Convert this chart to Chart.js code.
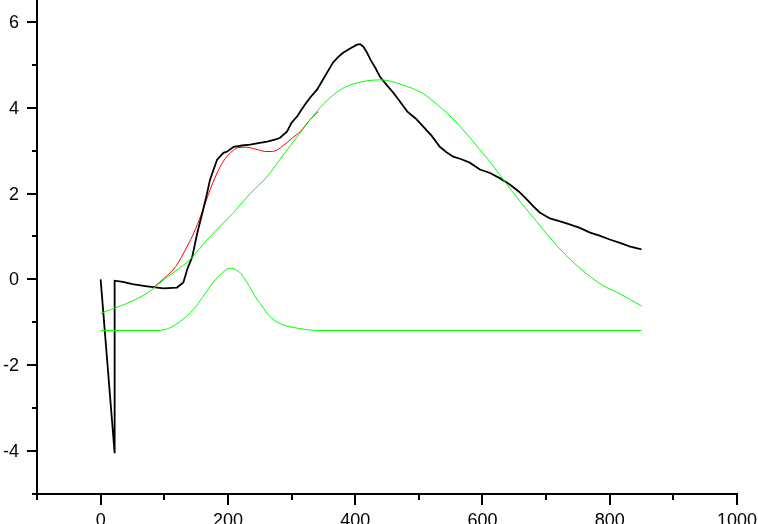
<!DOCTYPE html>
<html>
<head>
<meta charset="utf-8">
<script src="https://cdn.jsdelivr.net/npm/chart.js@4/dist/chart.umd.min.js"></script>
<style>
  body { margin: 0; background: #fff; }
  canvas { display: block; }
</style>
</head>
<body>
<canvas id="chart" width="758" height="524"></canvas>
<script>
// measured curve (black)
const blackX = [0, 22, 22, 35, 50, 73, 99, 120, 130, 136, 144, 152, 160, 165, 172, 183, 193, 199, 209, 222, 235, 250, 262, 275, 282, 293, 300, 309, 320, 330, 340, 352, 365, 373, 381, 392, 403, 408, 413, 418, 424, 432, 439, 450, 460, 470, 482, 495, 507, 520, 533, 543, 554, 567, 580, 596, 612, 627, 643, 657, 670, 680, 690, 706, 722, 737, 753, 769, 784, 800, 816, 831, 845, 850];
const blackY = [0, -4.05, -0.03, -0.06, -0.11, -0.16, -0.21, -0.19, -0.07, 0.23, 0.53, 1.09, 1.56, 1.86, 2.33, 2.79, 2.95, 2.98, 3.09, 3.12, 3.14, 3.18, 3.21, 3.26, 3.30, 3.45, 3.65, 3.80, 4.05, 4.25, 4.42, 4.72, 5.05, 5.18, 5.28, 5.38, 5.47, 5.48, 5.42, 5.30, 5.12, 4.92, 4.72, 4.52, 4.35, 4.15, 3.91, 3.75, 3.56, 3.35, 3.09, 2.97, 2.86, 2.80, 2.72, 2.56, 2.48, 2.36, 2.21, 2.05, 1.86, 1.70, 1.56, 1.42, 1.35, 1.28, 1.20, 1.09, 1.02, 0.93, 0.85, 0.77, 0.72, 0.70];

// fit sum (red)
const fitX = [82, 100, 118, 136, 147, 157, 165, 172, 180, 188, 196, 204, 216, 228, 240, 250, 259, 268, 278, 287, 293, 300, 314, 329, 342];
const fitY = [-0.20, 0.03, 0.30, 0.77, 1.10, 1.47, 1.80, 2.09, 2.38, 2.63, 2.82, 2.95, 3.07, 3.08, 3.05, 3.01, 2.98, 2.98, 3.02, 3.12, 3.19, 3.28, 3.45, 3.72, 3.91];

// wide peak (green)
const peak1X = [0, 31, 50, 74, 100, 120, 141, 160, 180, 209, 235, 262, 282, 314, 340, 361, 380, 403, 420, 439, 455, 475, 490, 507, 525, 544, 570, 596, 615, 635, 660, 685, 706, 730, 758, 789, 811, 830, 850];
const peak1Y = [-0.79, -0.62, -0.50, -0.31, 0.0, 0.22, 0.47, 0.80, 1.12, 1.56, 2.00, 2.40, 2.80, 3.42, 3.92, 4.24, 4.45, 4.58, 4.63, 4.65, 4.62, 4.53, 4.45, 4.33, 4.12, 3.88, 3.48, 3.02, 2.68, 2.28, 1.80, 1.35, 0.97, 0.58, 0.20, -0.14, -0.30, -0.45, -0.62];

// narrow peak (green)
const peak2X = [0, 90, 100, 110, 125, 135, 146, 160, 177, 190, 204, 212, 220, 230, 246, 251, 260, 271, 285, 303, 320, 340, 850];
const peak2Y = [-1.19, -1.19, -1.17, -1.12, -0.98, -0.86, -0.70, -0.42, -0.07, 0.14, 0.26, 0.23, 0.14, -0.07, -0.47, -0.56, -0.76, -0.93, -1.05, -1.12, -1.16, -1.19, -1.19];

const xTicks = [0, 200, 400, 600, 800, 1000];
const xMinor = [-100, 100, 300, 500, 700, 900];
const yTicks = [-4, -2, 0, 2, 4, 6];
const yMinor = [-3, -1, 1, 3, 5];

function pts(xs, ys) {
  return xs.map((x, i) => ({ x: x, y: ys[i] }));
}

const axesPlugin = {
  id: 'originAxes',
  afterDraw(chart) {
    const ctx = chart.ctx;
    const xs = chart.scales.x;
    const ys = chart.scales.y;
    const x0 = xs.getPixelForValue(-100);
    const x1 = xs.getPixelForValue(1000);
    const yb = ys.getPixelForValue(-5);
    ctx.save();
    ctx.strokeStyle = '#000';
    ctx.fillStyle = '#000';
    ctx.lineWidth = 2;
    ctx.beginPath();
    ctx.moveTo(x0, 0);
    ctx.lineTo(x0, yb + 1);
    ctx.moveTo(x0 - 5, yb);
    ctx.lineTo(x1 + 1, yb);
    yTicks.forEach(v => {
      const p = Math.round(ys.getPixelForValue(v));
      ctx.moveTo(x0 - 10, p);
      ctx.lineTo(x0, p);
    });
    yMinor.forEach(v => {
      const p = Math.round(ys.getPixelForValue(v));
      ctx.moveTo(x0 - 5, p);
      ctx.lineTo(x0, p);
    });
    xTicks.forEach(v => {
      const p = Math.round(xs.getPixelForValue(v));
      ctx.moveTo(p, yb);
      ctx.lineTo(p, yb + 11);
    });
    xMinor.forEach(v => {
      const p = Math.round(xs.getPixelForValue(v));
      ctx.moveTo(p, yb);
      ctx.lineTo(p, yb + 6);
    });
    ctx.stroke();

    ctx.font = '18px "Liberation Sans", Arial, sans-serif';
    ctx.textAlign = 'right';
    ctx.textBaseline = 'middle';
    yTicks.forEach(v => {
      ctx.fillText(String(v), x0 - 18, ys.getPixelForValue(v) + 1);
    });
    ctx.textAlign = 'center';
    ctx.textBaseline = 'top';
    xTicks.forEach(v => {
      ctx.fillText(String(v), xs.getPixelForValue(v), yb + 18);
    });
    ctx.restore();
  }
};

new Chart(document.getElementById('chart'), {
  type: 'scatter',
  data: {
    datasets: [
      { data: pts(peak2X, peak2Y), borderColor: '#00ff00', borderWidth: 1, cubicInterpolationMode: 'monotone' },
      { data: pts(peak1X, peak1Y), borderColor: '#00ff00', borderWidth: 1, cubicInterpolationMode: 'monotone' },
      { data: pts(blackX, blackY), borderColor: '#000000', borderWidth: 1.8, tension: 0 },
      { data: pts(fitX, fitY), borderColor: '#ff0000', borderWidth: 1, cubicInterpolationMode: 'monotone' }
    ].map(d => Object.assign(d, { showLine: true, pointRadius: 0, fill: false }))
  },
  options: {
    responsive: false,
    animation: false,
    layout: { padding: { left: 37, right: 21, top: 0, bottom: 30 } },
    scales: {
      x: { type: 'linear', min: -100, max: 1000, display: false },
      y: { type: 'linear', min: -5, max: 6.51, display: false }
    },
    plugins: {
      legend: { display: false },
      tooltip: { enabled: false }
    }
  },
  plugins: [axesPlugin]
});
</script>
</body>
</html>
